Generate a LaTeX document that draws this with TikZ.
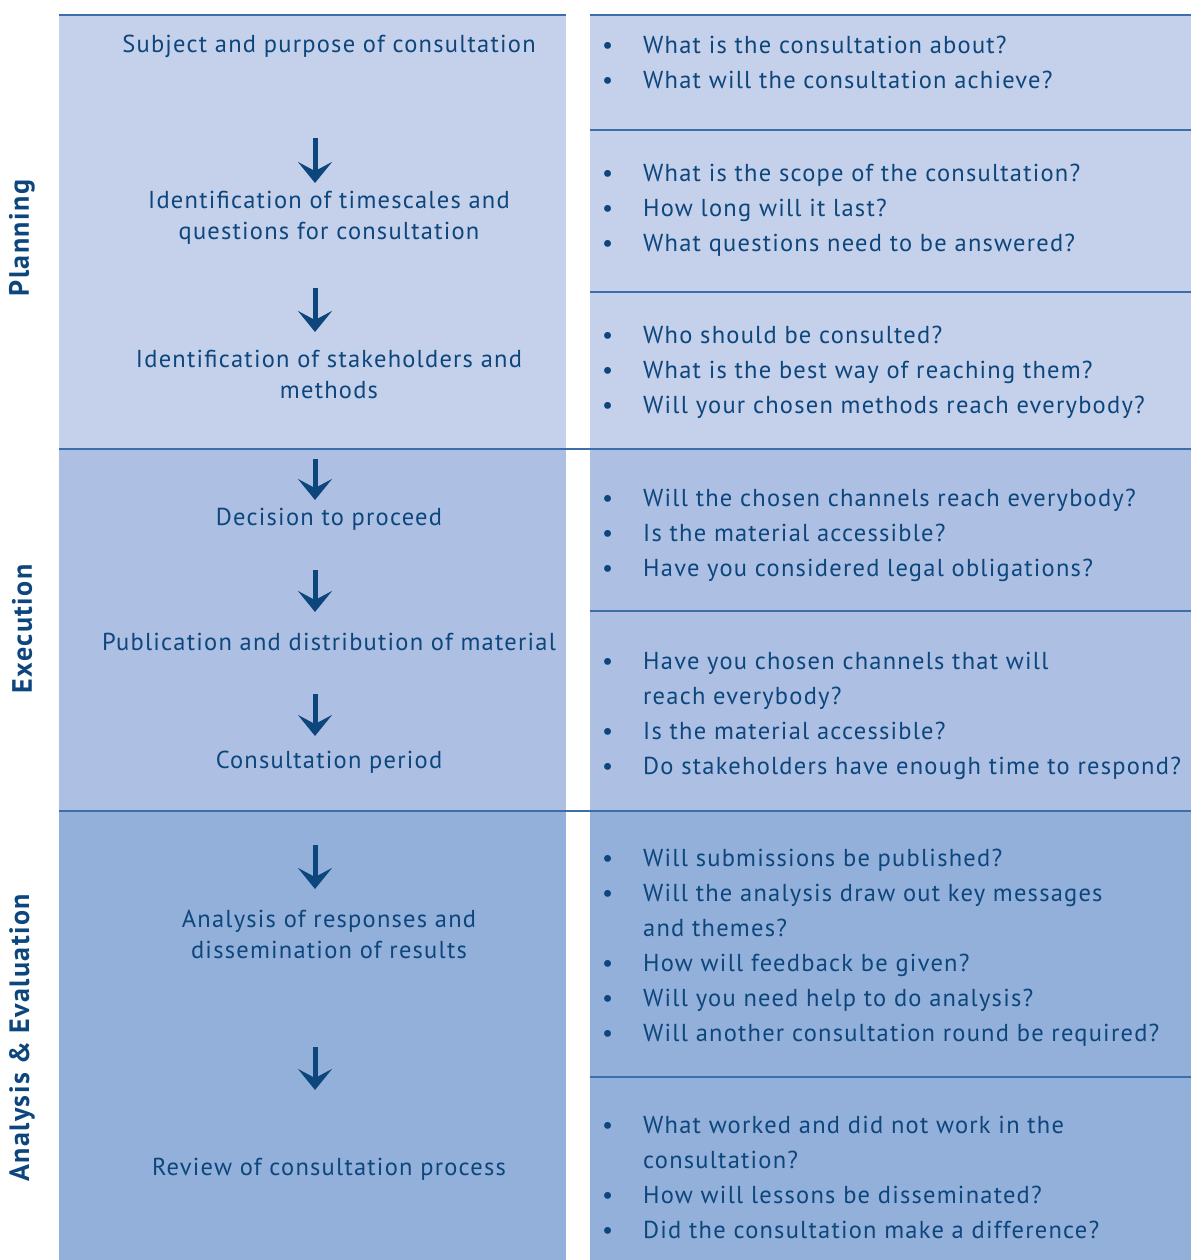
\documentclass[tikz,border=0pt]{standalone}
\usepackage{fontspec}
\setmainfont{PT Sans}[LetterSpace=5]
\usetikzlibrary{arrows.meta}

\definecolor{planfill}{HTML}{C5D0EA}
\definecolor{execfill}{HTML}{ADC0E3}
\definecolor{evalfill}{HTML}{93B0DA}
\definecolor{inkblue}{HTML}{0C467D}
\definecolor{ruleblue}{HTML}{3C6EAA}

\tikzset{
  stage/.style={text=inkblue, align=center, inner sep=0pt, font=\fontsize{24.5}{31}\selectfont},
  qlist/.style={text=inkblue, anchor=base west, inner sep=0pt, font=\fontsize{24.5}{35}\selectfont},
  phase/.style={text=inkblue, rotate=90, inner sep=0pt, font=\bfseries\fontsize{28}{30}\selectfont},
  flow/.style={draw=inkblue, fill=inkblue, line width=5pt, -{Stealth[length=21pt,width=34pt,inset=9pt]}},
  sep/.style={draw=ruleblue, line width=1.2pt}
}

\begin{document}
\begin{tikzpicture}[x=1pt,y=-1pt]
			\useasboundingbox (0,0) rectangle (1191,1260);
			% bands
			\fill[planfill] (59,15) rectangle (566,449);
			\fill[planfill] (590,15) rectangle (1191,449);
			\fill[execfill] (59,449) rectangle (566,811);
			\fill[execfill] (590,449) rectangle (1191,811);
			\fill[evalfill] (59,811) rectangle (566,1260);
			\fill[evalfill] (590,811) rectangle (1191,1260);
			% rules
			\draw[sep] (59,15) -- (566,15);
			\draw[sep] (590,15) -- (1191,15);
			\draw[sep] (590,130) -- (1191,130);
			\draw[sep] (590,292) -- (1191,292);
			\draw[sep] (59,449) -- (1191,449);
			\draw[sep] (590,611) -- (1191,611);
			\draw[sep] (59,811) -- (1191,811);
			\draw[sep] (590,1077) -- (1191,1077);
			% phases
			\node[phase] (planning) at (22,238) {Planning};
			\node[phase] (execution) at (22,629) {Execution};
			\node[phase] (evaluation) at (22,1038) {Analysis \& Evaluation};
			% stages
			\node[stage] (subject) at (329,46) {Subject and purpose of consultation};
			\node[stage] (timescales) at (329,218) {Identification of timescales and\\questions for consultation};
			\node[stage] (stakeholders) at (329,374) {Identification of stakeholders and\\methods};
			\node[stage] (decision) at (329,519) {Decision to proceed};
			\node[stage] (publication) at (329,642) {Publication and distribution of material};
			\node[stage] (period) at (329,762) {Consultation period};
			\node[stage] (analysis) at (329,934) {Analysis of responses and\\dissemination of results};
			\node[stage] (review) at (329,1169) {Review of consultation process};
			% arrows
			\foreach \i/\ya/\yb in {1/138/183, 2/288/332, 3/459/500, 4/570/612, 5/694/736, 6/845/889, 7/1047/1090} {
				\coordinate (up\i) at (315,\ya);
				\coordinate (dn\i) at (315,\yb);
				\draw[flow] (up\i) -- (dn\i);
			}
			% questions
			\node[qlist] (q1) at (602,54) {\begin{tabular}[t]{@{}p{41pt}@{}l@{}}
				\textbullet & What is the consultation about?\\
				\textbullet & What will the consultation achieve?
			\end{tabular}};
			\node[qlist] (q2) at (602,182) {\begin{tabular}[t]{@{}p{41pt}@{}l@{}}
				\textbullet & What is the scope of the consultation?\\
				\textbullet & How long will it last?\\
				\textbullet & What questions need to be answered?
			\end{tabular}};
			\node[qlist] (q3) at (602,343) {\begin{tabular}[t]{@{}p{41pt}@{}l@{}}
				\textbullet & Who should be consulted?\\
				\textbullet & What is the best way of reaching them?\\
				\textbullet & Will your chosen methods reach everybody?
			\end{tabular}};
			\node[qlist] (q4) at (602,506) {\begin{tabular}[t]{@{}p{41pt}@{}l@{}}
				\textbullet & Will the chosen channels reach everybody?\\
				\textbullet & Is the material accessible?\\
				\textbullet & Have you considered legal obligations?
			\end{tabular}};
			\node[qlist] (q5) at (602,669) {\begin{tabular}[t]{@{}p{41pt}@{}l@{}}
				\textbullet & Have you chosen channels that will\\
				 & reach everybody?\\
				\textbullet & Is the material accessible?\\
				\textbullet & Do stakeholders have enough time to respond?
			\end{tabular}};
			\node[qlist] (q6) at (602,866) {\begin{tabular}[t]{@{}p{41pt}@{}l@{}}
				\textbullet & Will submissions be published?\\
				\textbullet & Will the analysis draw out key messages\\
				 & and themes?\\
				\textbullet & How will feedback be given?\\
				\textbullet & Will you need help to do analysis?\\
				\textbullet & Will another consultation round be required?
			\end{tabular}};
			\node[qlist] (q7) at (602,1133) {\begin{tabular}[t]{@{}p{41pt}@{}l@{}}
				\textbullet & What worked and did not work in the\\
				 & consultation?\\
				\textbullet & How will lessons be disseminated?\\
				\textbullet & Did the consultation make a difference?
			\end{tabular}};
\end{tikzpicture}
\end{document}
